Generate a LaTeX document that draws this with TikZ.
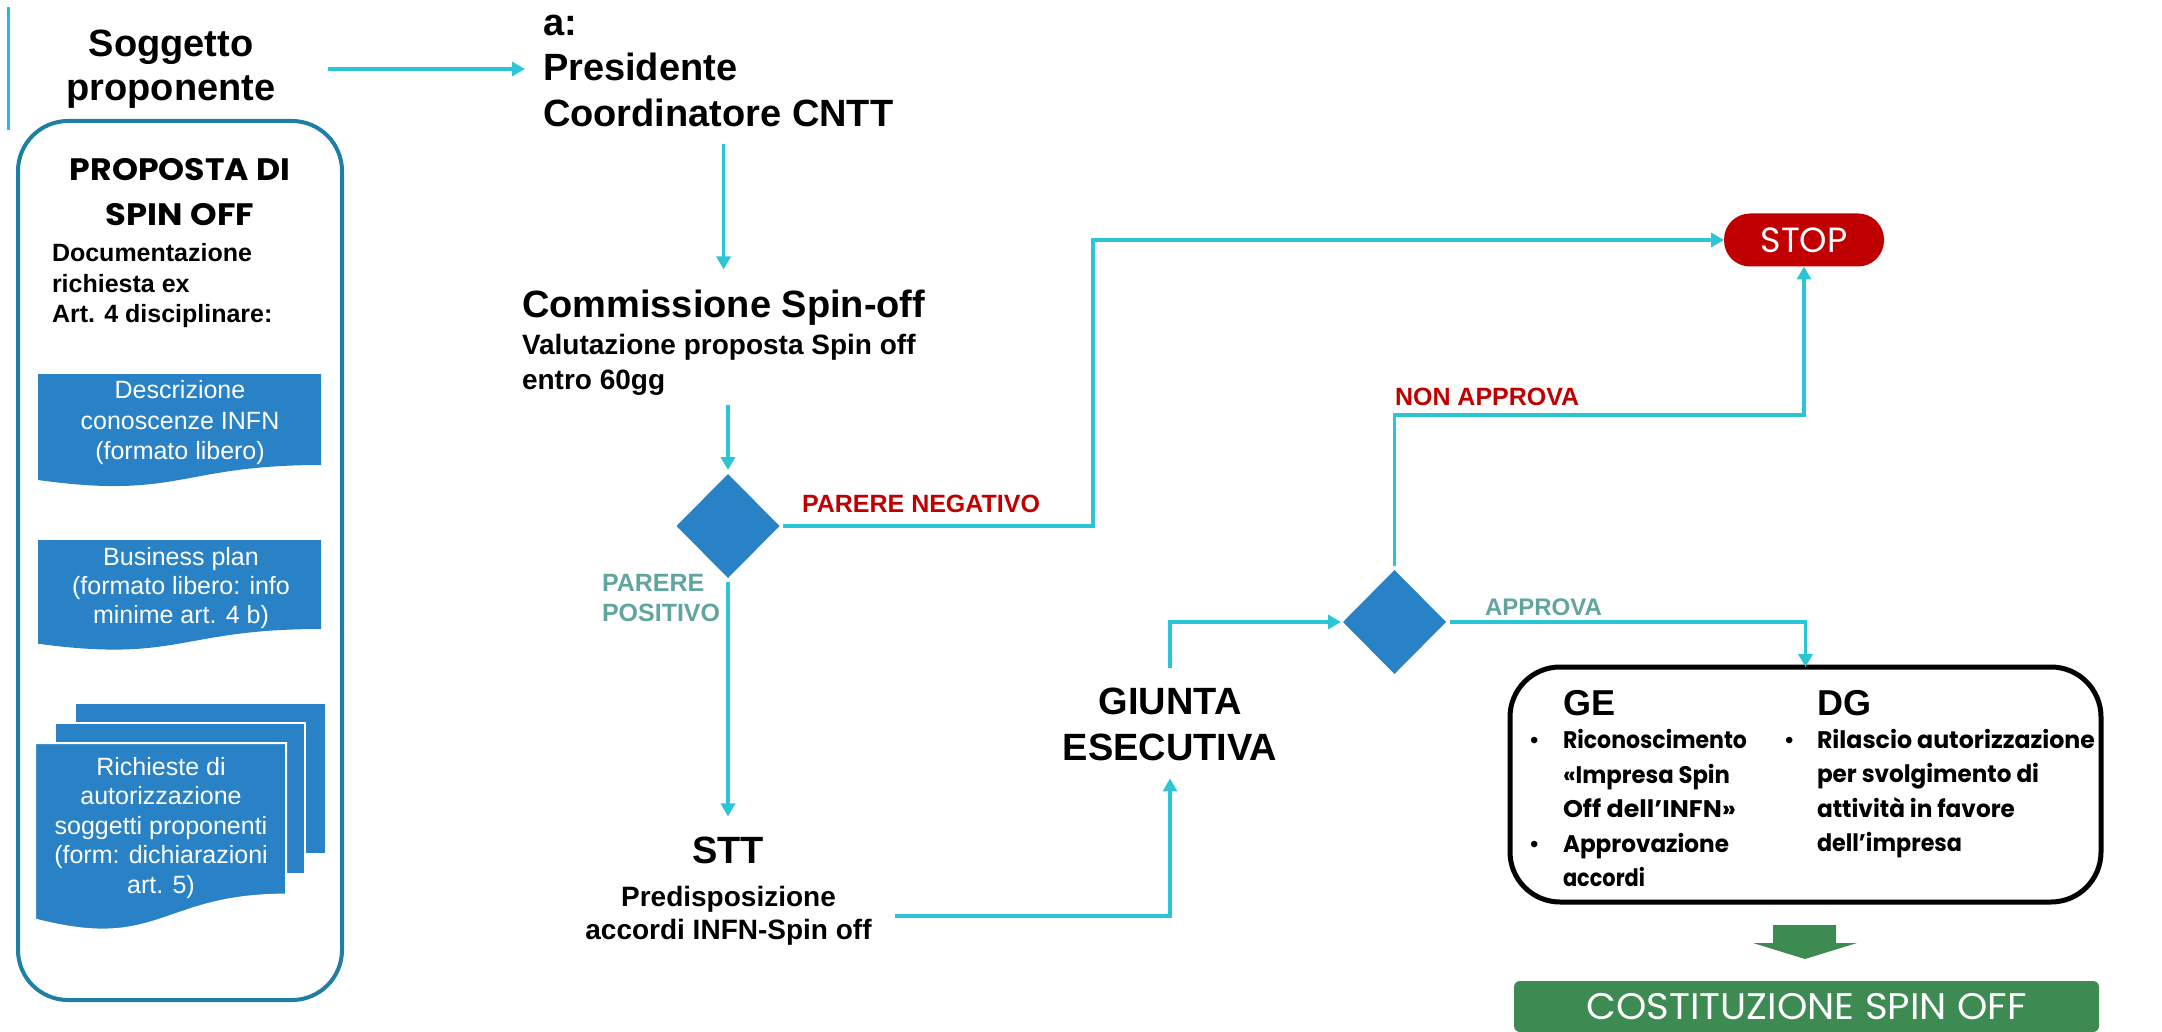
\documentclass[tikz,border=0pt]{standalone}
\usepackage{fontspec}
\setmainfont{Liberation Sans}
\newfontfamily\fut{Poppins}
\usepackage{graphicx}
\usetikzlibrary{arrows.meta,shapes.geometric}
\definecolor{cyanline}{RGB}{43,198,214}
\definecolor{dblue}{RGB}{41,130,198}
\definecolor{boxblue}{RGB}{31,126,163}
\definecolor{vlinec}{RGB}{45,180,230}
\definecolor{redtxt}{RGB}{192,0,0}
\definecolor{tealtxt}{RGB}{98,165,160}
\definecolor{stopred}{RGB}{192,0,0}
\definecolor{gbox}{RGB}{61,139,83}
\newcommand{\fitw}[2]{\resizebox{#1}{\height}{#2}}
\newcommand{\bulg}{{\normalfont\textbullet}}
\begin{document}
\begin{tikzpicture}[x=0.5pt,y=-0.5pt,
  conn/.style={draw=cyanline, line width=1.6pt, -{Triangle[length=6.5pt,width=7pt]}},
  plain/.style={inner sep=0pt, outer sep=0pt},
  dec/.style={diamond, fill=dblue, minimum width=51.5pt, minimum height=52pt, inner sep=0pt, outer sep=0pt},
  ttl/.style={plain, font=\fontsize{19}{22.5}\selectfont\bfseries},
  subt/.style={plain, font=\fontsize{14}{17}\selectfont\bfseries},
  lbl/.style={plain, font=\fontsize{12.5}{15}\selectfont\bfseries},
  dtxt/.style={plain, align=center, text=white, font=\fontsize{12.5}{15}\selectfont},
  bul/.style={plain, align=left, font=\fut\bfseries\fontsize{12}{17.25}\selectfont},
  sheet/.style={fill=dblue, draw=white, line width=1pt}]
\fill[white] (0,0) rectangle (2162,1032);
\useasboundingbox (0,0) rectangle (2162,1032);

% left decorative line
\coordinate (vl1) at (8,7);
\coordinate (vl2) at (8,130);
\draw[draw=vlinec, line width=1.5pt] (vl1) -- (vl2);

% left container
\node[plain, draw=boxblue, line width=2pt, rounded corners=25pt, minimum width=162pt, minimum height=439.5pt] (lbox) at (180,560.5) {};

\node[ttl, align=center, font=\fontsize{19}{22}\selectfont\bfseries] (sog) at (171,69) {Soggetto\\proponente};

\node[plain, align=center, font=\fut\bfseries\fontsize{15.5}{22.5}\selectfont] (prop) at (180,192.5) {\fitw{110pt}{PROPOSTA DI}\\\fitw{74pt}{SPIN OFF}};

\node[plain, align=left, font=\fontsize{12.5}{15.25}\selectfont\bfseries, anchor=west] (docu) at (52,286) {Documentazione\\richiesta ex\\Art. 4 disciplinare:};

% document 1
\fill[dblue] (38,374) -- (321,374) -- (321,465) .. controls (179.5,465) and (179.5,499.7) .. (38,480) -- cycle;
\node[dtxt, font=\fontsize{12.5}{15.25}\selectfont] (d1t) at (180,423) {Descrizione\\conoscenze INFN\\(formato libero)};

% document 2
\fill[dblue] (38,540) -- (321,540) -- (321,629) .. controls (179.5,629) and (179.5,662.9) .. (38,643.7) -- cycle;
\node[dtxt, font=\fontsize{12.5}{14.5}\selectfont] (d2t) at (181,588.5) {Business plan\\(formato libero: info\\minime art. 4 b)};

% multi document
\filldraw[sheet] (75,703) rectangle (326,854);
\filldraw[sheet] (55,723) rectangle (305,874);
\filldraw[sheet] (35,743) -- (286,743) -- (286,894.6) .. controls (160.5,894.6) and (160.5,952.3) .. (35,919.5) -- cycle;
\node[dtxt, font=\fontsize{12.5}{14.75}\selectfont] (d3t) at (161,828) {Richieste di\\autorizzazione\\soggetti proponenti\\(form: dichiarazioni\\art. 5)};

% central column
\node[ttl, align=left, font=\fontsize{19}{22.75}\selectfont\bfseries, anchor=west] (pres) at (543,70.5) {a:\\Presidente\\Coordinatore CNTT};
\node[ttl, anchor=base west] (comT) at (522,317) {Commissione Spin-off};
\node[subt, align=left, font=\fontsize{14}{17.5}\selectfont\bfseries, anchor=west] (comS) at (522,365) {Valutazione proposta Spin off\\entro 60gg};

\node[dec] (d1) at (728,526) {};
\node[lbl, text=redtxt, anchor=base west] (pneg) at (802,512) {PARERE NEGATIVO};
\node[lbl, text=tealtxt, align=left, anchor=west] (ppos) at (602,598) {PARERE\\POSITIVO};

\node[ttl, anchor=base] (stt) at (728,863) {STT};
\node[subt, align=center, font=\fontsize{14}{16.5}\selectfont\bfseries] (sttS) at (728.5,916) {Predisposizione\\accordi INFN-Spin off};

\node[ttl, align=center, font=\fontsize{19}{23}\selectfont\bfseries] (giunta) at (1170,724) {GIUNTA\\ESECUTIVA};

\node[dec] (d2) at (1394.5,622) {};
\node[lbl, text=redtxt, anchor=base west] (napp) at (1395,405) {NON APPROVA};
\node[lbl, text=tealtxt, font=\fontsize{12}{14}\selectfont\bfseries, anchor=base west] (app) at (1485,615) {APPROVA};

\node[plain, fill=stopred, rounded corners=13pt, minimum width=80pt, minimum height=26.5pt, text=white, font=\fut\fontsize{17.5}{17.5}\selectfont] (stop) at (1804,240) {\fitw{43.5pt}{STOP}};

% result box
\node[plain, draw=black, line width=2.5pt, rounded corners=25pt, minimum width=295.5pt, minimum height=117.5pt] (box) at (1805.5,784.5) {};
\node[plain, font=\fontsize{18}{18}\selectfont\bfseries, anchor=base west] (ge) at (1563,715) {GE};
\node[plain, font=\fontsize{18}{18}\selectfont\bfseries, anchor=base west] (dg) at (1817,715) {DG};
\node[bul, anchor=west] (bl) at (1530,808) {%
\makebox[16.5pt][l]{\bulg}\fitw{92pt}{Riconoscimento}\\
\hspace*{16.5pt}\fitw{83.5pt}{«Impresa Spin}\\
\hspace*{16.5pt}\fitw{86.5pt}{Off dell’INFN»}\\
\makebox[16.5pt][l]{\bulg}\fitw{83pt}{Approvazione}\\
\hspace*{16.5pt}\fitw{41pt}{accordi}};
\node[bul, anchor=west] (br) at (1785,793.5) {%
\makebox[16pt][l]{\bulg}\fitw{139pt}{Rilascio autorizzazione}\\
\hspace*{16pt}\fitw{111pt}{per svolgimento di}\\
\hspace*{16pt}\fitw{99pt}{attività in favore}\\
\hspace*{16pt}\fitw{72.5pt}{dell’impresa}};

% green block arrow and final box
\fill[gbox] (1773,925) -- (1836,925) -- (1836,943) -- (1857,943) -- (1805,959) -- (1753,943) -- (1773,943) -- cycle;
\node[plain, fill=gbox, rounded corners=3pt, minimum width=292.5pt, minimum height=25.5pt, text=white, font=\fut\fontsize{18.5}{18.5}\selectfont] (cost) at (1806.5,1006.5) {\fitw{220pt}{COSTITUZIONE SPIN OFF}};

% connectors
\coordinate (negc) at (1093,240);
\coordinate (nac) at (1804,415);
\draw[conn] ([xshift=26.25pt]sog.east) -- ([xshift=-9pt]sog.east -| pres.west);
\draw[conn] ([yshift=-9pt]pres.south -| comT.north) -- ([yshift=10pt]comT.north);
\draw[conn] ([yshift=-4.5pt]comS.south -| d1.north) -- ([yshift=2pt]d1.north);
\draw[conn] ([xshift=1.5pt]d1.east) -| (negc) -- (stop.west);
\draw[conn] ([yshift=-2pt]d1.south) -- ([yshift=10pt]stt.north);
\draw[conn] ([xshift=11.5pt]sttS.east) -| ([yshift=-9pt]giunta.south);
\draw[conn] ([yshift=10pt]giunta.north) |- ([xshift=-1pt]d2.west);
\draw[conn] ([yshift=2pt]d2.north) |- (nac) -- (stop.south);
\draw[conn] ([xshift=2pt]d2.east) -| (box.north);
\end{tikzpicture}
\end{document}
